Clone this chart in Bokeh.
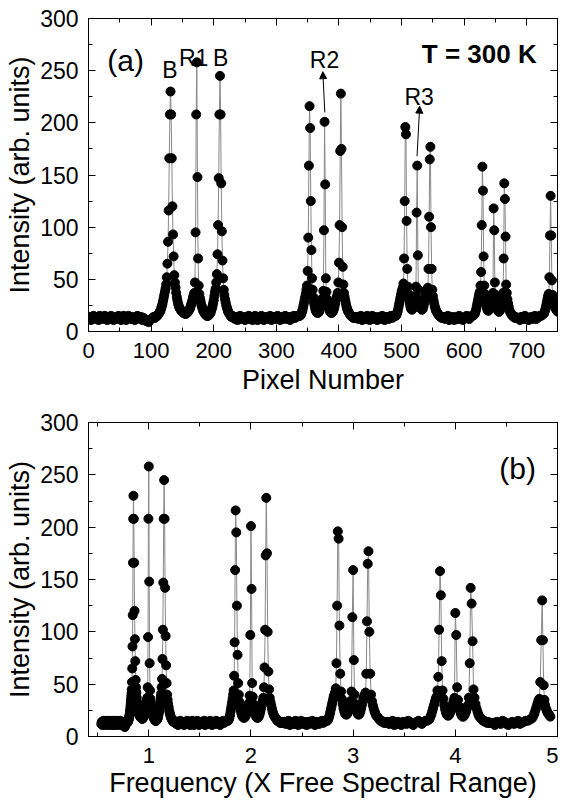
import numpy as np
from bokeh.plotting import figure
from bokeh.models import (Range1d, LinearAxis, SingleIntervalTicker, Label,
                          Arrow, NormalHead, CustomJSTickFormatter)
from bokeh.layouts import column
from bokeh.embed import file_html
from bokeh.resources import INLINE

FONT = "Liberation Sans"

# ---------------- data ----------------
# baseline stretches: sampled every 2 pixels; peak groups: every pixel
base_1_start, base_1 = 0, [
    12, 14, 11, 13, 15, 12, 13, 14, 11, 15,
    13, 12, 14, 15, 12, 11, 14, 12, 15, 13,
    11, 13, 14, 12, 15, 13, 11, 14, 15, 12,
    11, 13, 15, 13, 12, 14, 13, 11, 13, 15,
    13, 12, 14, 11, 13, 12, 10, 11, 9, 11,
    12, 13, 14]
group_1_start, group_1 = 106, [
    13, 14, 14, 15, 15, 16, 17, 18, 19, 20,
    22, 24, 26, 29, 32, 35, 38, 41, 45, 52,
    65, 86, 116, 166, 208, 230, 208, 166, 120, 93,
    72, 54, 47, 42, 37, 33, 30, 27, 25, 23,
    22, 21, 20, 19, 19, 18, 18, 18, 17, 17,
    17, 18, 18, 19, 20, 21, 22, 24, 26, 28,
    30, 33, 35, 37, 47, 95, 208, 258, 148, 70,
    44, 36, 32, 29, 26, 24, 22, 20, 19, 18,
    17, 16, 16, 15, 15, 15, 16, 16, 17, 18,
    20, 22, 24, 27, 30, 34, 38, 41, 47, 55,
    74, 102, 147, 208, 245, 208, 142, 96, 68, 51,
    40, 35, 31, 28, 25, 23, 21, 19, 18, 17,
    16, 15, 14]
base_2_start, base_2 = 230, [
    15, 13, 12, 14, 11, 13, 15, 12, 14, 13,
    11, 14, 13, 15, 12, 13, 11, 14, 15, 12,
    11, 13, 12, 15, 14, 11, 13, 14, 12, 13,
    15, 11, 13, 14, 12, 13, 15, 13, 11, 14,
    12, 13, 15, 12, 14, 13, 11, 14, 13, 15,
    13, 14, 15, 15]
group_2_start, group_2 = 338, [
    15, 16, 17, 19, 21, 24, 27, 30, 33, 36,
    40, 44, 58, 90, 159, 216, 195, 125, 78, 51,
    40, 33, 28, 25, 22, 20, 19, 18, 18, 18,
    19, 20, 22, 24, 26, 29, 32, 39, 97, 201,
    141, 51, 38, 31, 27, 24, 22, 20, 19, 18,
    18, 18, 19, 20, 22, 24, 27, 30, 32, 34,
    37, 47, 66, 102, 173, 228, 175, 100, 62, 45,
    37, 33, 30, 27, 24, 22, 20, 19, 18, 17,
    16, 15, 15, 14, 14, 13, 14, 13, 13, 14]
base_3_start, base_3 = 429, [
    14, 12, 13, 15, 11, 14, 13, 12, 15, 13,
    11, 13, 15, 12, 14, 13, 11, 14, 12, 13,
    15, 13, 11, 14, 13, 12, 14, 15, 13, 14,
    15]
group_3_start, group_3 = 491, [
    15, 16, 18, 20, 23, 26, 29, 32, 35, 38,
    40, 42, 46, 70, 125, 196, 189, 106, 60, 43,
    36, 31, 27, 24, 22, 21, 21, 22, 24, 27,
    30, 34, 43, 114, 159, 73, 40, 31, 27, 24,
    22, 21, 21, 22, 24, 27, 30, 33, 36, 38,
    40, 42, 60, 110, 165, 177, 100, 60, 40, 34,
    30, 27, 24, 22, 20, 19, 18, 17, 16, 15,
    15, 14, 14, 13, 14, 13]
base_4_start, base_4 = 568, [
    14, 12, 13, 15, 11, 13, 14, 12, 11, 14,
    13, 12, 15, 14, 12, 11, 13, 14, 15, 13,
    12, 14, 15, 15]
group_4_start, group_4 = 616, [
    16, 17, 19, 21, 24, 27, 30, 33, 36, 38,
    44, 57, 102, 158, 135, 72, 44, 36, 30, 26,
    23, 21, 20, 20, 21, 23, 25, 28, 31, 34,
    37, 118, 97, 47, 35, 29, 25, 22, 20, 19,
    19, 20, 22, 24, 27, 30, 37, 70, 142, 127,
    91, 45, 37, 31, 27, 24, 21, 19, 18, 17,
    16, 15, 15, 14, 14, 13, 14, 13, 13, 13]
base_5_start, base_5 = 687, [
    13, 11, 14, 13, 12, 15, 14, 12, 11, 13,
    14, 12, 13, 15, 12, 13, 14, 15, 15, 16]
group_5_start, group_5 = 727, [
    17, 18, 20, 22, 25, 28, 31, 34, 36, 52,
    92, 130, 92, 49, 35, 30, 27, 25, 23, 22,
    21, 20, 19]

# pixel -> frequency calibration (peak positions read in both panels)
cal_pixel = [0, 131, 173, 210, 353, 377, 403, 506, 525, 546, 629, 647, 664, 738, 749]
cal_frequency = [0.535, 0.85, 1.0, 1.15, 1.85, 2.0, 2.15, 2.85, 3.0, 3.15,
                 3.85, 4.0, 4.15, 4.85, 4.93]

segments = [
    (base_1_start, 2, base_1), (group_1_start, 1, group_1),
    (base_2_start, 2, base_2), (group_2_start, 1, group_2),
    (base_3_start, 2, base_3), (group_3_start, 1, group_3),
    (base_4_start, 2, base_4), (group_4_start, 1, group_4),
    (base_5_start, 2, base_5), (group_5_start, 1, group_5),
]
pixel = np.concatenate([s + st * np.arange(len(v)) for s, st, v in segments]).astype(float)
intensity = np.concatenate([np.array(v, dtype=float) for s, st, v in segments])
frequency = np.interp(pixel, cal_pixel, cal_frequency)


# ---------------- figure helpers ----------------
def make_fig(height, x_range, x_interval, x_label, border_top, border_bottom,
             x_tick_standoff, x_label_standoff):
    p = figure(width=558, height=height, output_backend="svg", toolbar_location=None,
               x_range=Range1d(*x_range), y_range=Range1d(0, 300),
               x_axis_type=None, y_axis_type=None,
               min_border_left=88, min_border_right=1,
               min_border_top=border_top, min_border_bottom=border_bottom)
    p.outline_line_color = "black"
    p.outline_line_width = 1
    p.outline_line_alpha = 1.0
    p.background_fill_color = "white"
    p.border_fill_color = "white"

    xt = SingleIntervalTicker(interval=x_interval, num_minor_ticks=2)
    yt = SingleIntervalTicker(interval=50, num_minor_ticks=2)
    for loc, ticker, show in [("below", xt, True), ("above", xt, False),
                              ("left", yt, True), ("right", yt, False)]:
        ax = LinearAxis(ticker=ticker)
        ax.major_tick_in = 7
        ax.major_tick_out = 0
        ax.minor_tick_in = 4
        ax.minor_tick_out = 0
        ax.axis_line_color = "black"
        ax.major_tick_line_color = "black"
        ax.minor_tick_line_color = "black"
        if show:
            ax.major_label_text_font = FONT
            ax.major_label_text_color = "black"
            ax.axis_label_text_font = FONT
            ax.axis_label_text_font_size = "27px"
            ax.axis_label_text_font_style = "normal"
            ax.axis_label_text_color = "black"
            if loc == "below":
                ax.major_label_text_font_size = "22px"
                ax.axis_label = x_label
                ax.major_label_standoff = x_tick_standoff
                ax.axis_label_standoff = x_label_standoff
            else:
                ax.major_label_text_font_size = "23px"
                ax.axis_label = "Intensity (arb. units)"
                ax.major_label_standoff = 10
                ax.axis_label_standoff = 2
        else:
            ax.formatter = CustomJSTickFormatter(code="return '';")
            ax.major_label_text_font_size = "1px"
            ax.major_label_standoff = 0
            ax.axis_label_standoff = 0
        p.add_layout(ax, loc)
    return p


def draw_data(p, x):
    p.line(x, intensity, line_color="#888888", line_width=1)
    p.scatter(x, intensity, marker="circle", size=9,
              fill_color="black", line_color="black")


def add_text(p, x, y, text, size, align="center", style="normal"):
    p.add_layout(Label(x=x, y=y, text=text, text_font=FONT, text_font_size=size,
                       text_font_style=style, text_align=align,
                       text_baseline="middle", text_color="black"))


# ---------------- panel (a) ----------------
p1 = make_fig(401, (0, 749), 100, "Pixel Number", 18, 70, 11, 4)
draw_data(p1, pixel)
add_text(p1, 30, 260, "(a)", "30px", align="left")
add_text(p1, 130, 251, "B", "23px")
add_text(p1, 168, 262, "R1", "23px")
add_text(p1, 211, 262, "B", "23px")
add_text(p1, 377, 260, "R2", "23px")
add_text(p1, 528, 225, "R3", "23px")
add_text(p1, 624, 266, "T = 300 K", "26px", style="bold")
for xs, ys, xe, ye in [(377.4, 210, 374.2, 249), (524.7, 168, 528.9, 216)]:
    p1.add_layout(Arrow(end=NormalHead(size=7, fill_color="black", line_color="black"),
                        x_start=xs, y_start=ys, x_end=xe, y_end=ye,
                        line_color="black", line_width=1))

# ---------------- panel (b) ----------------
p2 = make_fig(403, (0.41, 5.0), 1, "Frequency (X Free Spectral Range)", 21, 68, 11, 2)
draw_data(p2, frequency)
add_text(p2, 4.61, 256, "(b)", "30px")

layout = column(p1, p2, spacing=0)
open("out.html", "w").write(file_html(layout, INLINE))
